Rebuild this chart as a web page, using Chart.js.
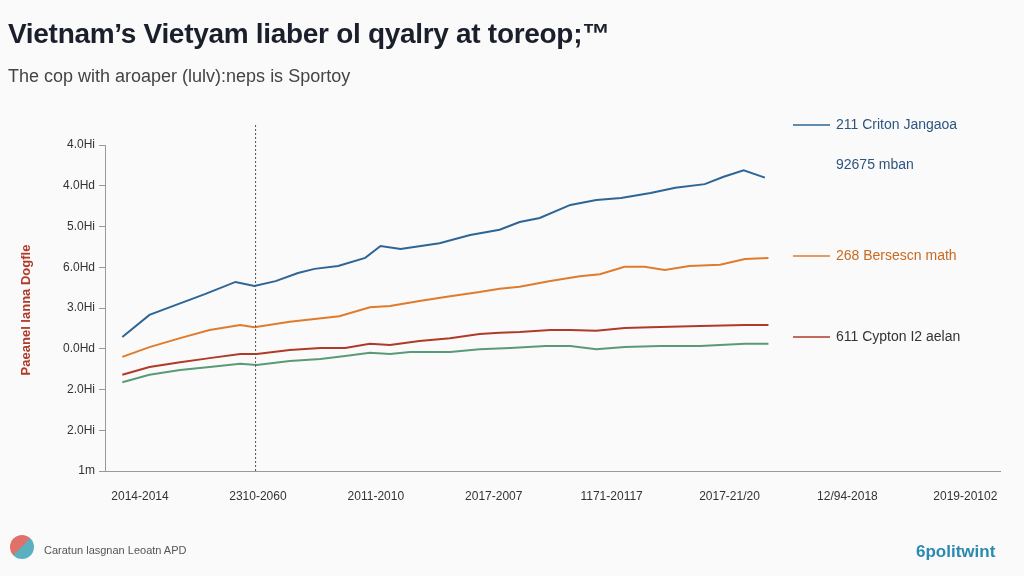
<!DOCTYPE html>
<html><head><meta charset="utf-8">
<script src="https://cdn.jsdelivr.net/npm/chart.js@4"></script>
<style>
body{margin:0;background:#fafafa;width:1024px;height:576px;overflow:hidden;font-family:"Liberation Sans",Arial,sans-serif}
#wrap{position:absolute;left:0;top:0;width:1024px;height:576px}
.t{position:absolute;white-space:nowrap}
</style></head><body>
<div id="wrap"><canvas id="c" width="1024" height="576"></canvas></div>
<div class="t" style="left:8px;top:18px;font-size:28px;font-weight:bold;color:#1a1f2b;letter-spacing:-0.3px">Vietnam’s Vietyam liaber ol qyalry at toreop;™</div>
<div class="t" style="left:8px;top:66px;font-size:18px;color:#444">The cop with aroaper (lulv):neps is Sportoy</div>
<div class="t" style="left:10px;top:535px;width:24px;height:24px;border-radius:50%;background:linear-gradient(135deg,#e0706a 50%,#5bb0c0 50%)"></div>
<div class="t" style="left:44px;top:544px;font-size:11px;color:#555">Caratun lasgnan Leoatn APD</div>
<div class="t" style="left:916px;top:542px;font-size:17px;font-weight:bold;color:#2a8ab0">6politwint</div>
<script>
const xLabels=["2014-2014","2310-2060","2011-2010","2017-2007","1171-20117","2017-21/20","12/94-2018","2019-20102"];
const yLabels=["1m","2.0Hi","2.0Hi","0.0Hd","3.0Hi","6.0Hd","5.0Hi","4.0Hd","4.0Hi"];
const seriesNames=["211 Criton Jangaoa","268 Bersescn math","611 Cypton I2 aelan","92675 mban"];
const blueX=[-0.15,0.08,0.30,0.55,0.81,0.97,1.15,1.34,1.48,1.68,1.91,2.04,2.21,2.54,2.80,3.05,3.22,3.39,3.65,3.87,4.08,4.33,4.54,4.79,4.95,5.12,5.30];
const blueY=[3.29,3.83,4.07,4.34,4.64,4.54,4.66,4.86,4.96,5.03,5.23,5.52,5.45,5.59,5.79,5.92,6.11,6.21,6.53,6.65,6.70,6.82,6.95,7.04,7.22,7.38,7.20];
const orangeX=[-0.15,0.08,0.34,0.59,0.85,0.97,1.27,1.48,1.69,1.95,2.12,2.37,2.63,2.88,3.05,3.22,3.48,3.73,3.90,4.11,4.28,4.45,4.66,4.92,5.13,5.33];
const orangeY=[2.80,3.04,3.26,3.46,3.58,3.53,3.66,3.73,3.80,4.02,4.05,4.17,4.29,4.39,4.47,4.52,4.66,4.78,4.83,5.01,5.01,4.93,5.03,5.06,5.20,5.23];
const redX=[-0.15,0.08,0.34,0.59,0.85,0.99,1.27,1.53,1.74,1.95,2.12,2.37,2.63,2.88,3.05,3.22,3.48,3.65,3.87,4.11,4.33,4.75,5.13,5.33];
const redY=[2.36,2.55,2.67,2.77,2.87,2.87,2.97,3.02,3.02,3.12,3.09,3.19,3.26,3.36,3.39,3.41,3.46,3.46,3.44,3.51,3.53,3.56,3.58,3.58];
const greenX=[-0.15,0.08,0.34,0.59,0.85,0.99,1.27,1.53,1.74,1.95,2.12,2.29,2.63,2.88,3.14,3.44,3.65,3.87,4.11,4.41,4.75,5.13,5.33];
const greenY=[2.18,2.36,2.48,2.55,2.63,2.60,2.70,2.75,2.82,2.90,2.87,2.92,2.92,2.99,3.02,3.07,3.07,2.99,3.04,3.07,3.07,3.12,3.12];
const colors=["#2e6596","#e07b2c","#b03a28","#5a9a78"];
const pts=(xs,ys)=>xs.map((x,i)=>({x,y:ys[i]}));
const overlay={id:'ov',afterDraw(ch){
  const c=ch.ctx,xs=ch.scales.x,ys=ch.scales.y;
  c.save();
  c.strokeStyle='#555';c.lineWidth=1;c.setLineDash([2,2]);
  const vx=xs.getPixelForValue(0.98);
  c.beginPath();c.moveTo(vx,125);c.lineTo(vx,ys.getPixelForValue(0));c.stroke();
  c.setLineDash([]);
  const leg=[[0,125,true,'#2e6596'],[3,165,false,'#2e6596'],[1,256,true,'#e07b2c'],[2,337,true,'#b03a28']];
  c.font='14px "Liberation Sans",Arial';c.textBaseline='middle';
  leg.forEach(([i,y,line,col])=>{
    if(line){c.strokeStyle=col;c.lineWidth=1.5;c.beginPath();c.moveTo(793,y);c.lineTo(830,y);c.stroke();}
    c.fillStyle=i==1?'#c86a20':(i==2?'#333':'#2e5580');c.fillText(seriesNames[i],836,y);
  });
  c.translate(26,310);c.rotate(-Math.PI/2);c.textAlign='center';
  c.font='bold 13px "Liberation Sans",Arial';c.fillStyle='#b03a28';c.fillText('Paeanel lanna Dogfle',0,0);
  c.restore();
}};
new Chart(document.getElementById('c'),{
  type:'line',
  data:{datasets:[
    {data:pts(blueX,blueY),borderColor:colors[0]},
    {data:pts(orangeX,orangeY),borderColor:colors[1]},
    {data:pts(redX,redY),borderColor:colors[2]},
    {data:pts(greenX,greenY),borderColor:colors[3]}
  ].map(d=>Object.assign(d,{borderWidth:2,pointRadius:0,tension:0,fill:false}))},
  options:{responsive:false,animation:false,
    layout:{padding:{top:145,right:24}},
    plugins:{legend:{display:false},tooltip:{enabled:false}},
    scales:{
      x:{type:'linear',min:-0.297,max:7.294,grid:{display:false},border:{color:'#999'},
        afterBuildTicks:s=>{s.ticks=xLabels.map((_,i)=>({value:i}));},
        ticks:{callback:v=>xLabels[v]??'',color:'#333',font:{size:12},maxRotation:0,padding:10},
        afterFit:s=>{s.height=105;}},
      y:{min:0,max:8,grid:{display:true,drawOnChartArea:false,tickLength:6,color:'#999'},border:{color:'#999'},
        ticks:{stepSize:1,callback:v=>yLabels[v]??'',color:'#333',font:{size:12},padding:4},
        afterFit:s=>{s.width=105;}}
    }},
  plugins:[overlay]
});
</script></body></html>
